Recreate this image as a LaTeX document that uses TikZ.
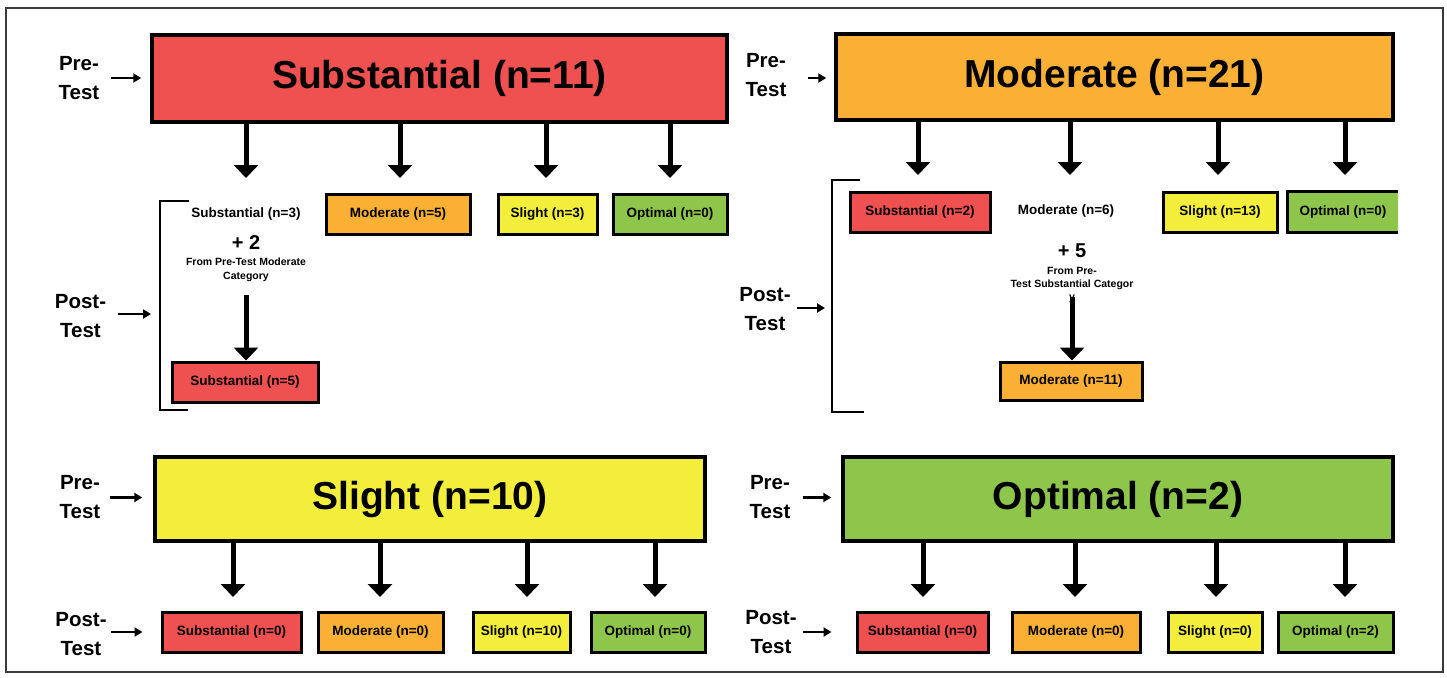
\documentclass[tikz,border=0pt]{standalone}
\usepackage{fontspec}
\setmainfont{Liberation Sans}
\usetikzlibrary{arrows.meta}
\definecolor{cred}{HTML}{EF5050}
\definecolor{corange}{HTML}{FAB034}
\definecolor{cyellow}{HTML}{F3EE3C}
\definecolor{cgreen}{HTML}{8DC64A}
\definecolor{cframe}{HTML}{3A3A3A}
\begin{document}
\begin{tikzpicture}[x=1pt,y=-1pt,
 box/.style={draw=black, line width=3pt, inner sep=0pt, minimum height=40pt, font=\bfseries\fontsize{13.5}{15}\selectfont},
 big/.style={draw=black, line width=3.5pt, inner sep=0pt, font=\bfseries\fontsize{39}{42}\selectfont},
 plain/.style={inner sep=0pt, font=\bfseries\fontsize{13.5}{15}\selectfont},
 lab/.style={inner sep=0pt, align=center, font=\bfseries\fontsize{20.5}{29}\selectfont},
 note/.style={inner sep=0pt, align=center, font=\bfseries\fontsize{10.5}{14}\selectfont},
 plus/.style={inner sep=0pt, font=\bfseries\fontsize{20}{22}\selectfont},
 darr/.style={line width=5pt, -{Triangle[width=24pt,length=13pt]}},
 sarr/.style={line width=2.2pt, -{Triangle[width=9pt,length=8pt]}},
 brk/.style={line width=2pt},
]
\useasboundingbox (0,0) rectangle (1447,677);
\fill[white] (0,0) rectangle (1447,677);
\draw[cframe, line width=2pt] (6,8) rectangle (1443,672);

% ===== Section A: Substantial =====
\node[big, fill=cred, minimum width=575pt, minimum height=87pt] (A) at (439.5,78.5) {Substantial (n=11)};
\node[lab] (preA) at (79,78) {Pre-\\Test};
\draw[sarr] ([xshift=11pt]preA.east) -- ([xshift=-9pt]preA.east -| A.west);
\coordinate (a1) at (246,178);
\coordinate (a2) at (400,178);
\coordinate (a3) at (546,178);
\coordinate (a4) at (670,178);
\foreach \c in {a1,a2,a3,a4} \draw[darr] (A.south -| \c) -- (\c);
\node[plain] (A1) at (246,214) {Substantial (n=3)};
\node[box, fill=corange, minimum width=144pt] (A2) at (398,214) {Moderate (n=5)};
\node[box, fill=cyellow, minimum width=99pt] (A3) at (547.5,214) {Slight (n=3)};
\node[box, fill=cgreen, minimum width=114pt] (A4) at (670,214) {Optimal (n=0)};
\node[plus] (Aplus) at (246,243) {+ 2};
\node[note] (Anote) at (246,269.5) {From Pre-Test Moderate\\Category};
\node[box, fill=cred, minimum width=146pt] (A5) at (245,382) {Substantial (n=5)};
\coordinate (a5) at (246,295);
\draw[darr] (a5) -- (A5.north -| a5);
\draw[brk] (189,201) -- (160,201) -- (160,410) -- (188,410);
\coordinate (bA) at (160,314);
\node[lab] (postA) at (80.5,316) {Post-\\Test};
\draw[sarr] ([xshift=12pt]postA.east |- bA) -- ([xshift=-9pt]bA);

% ===== Section B: Moderate =====
\node[big, fill=corange, minimum width=557pt, minimum height=86pt] (B) at (1114.5,77) {Moderate (n=21)};
\node[lab] (preB) at (766,75) {Pre-\\Test};
\coordinate (pB) at (766,78);
\draw[sarr] ([xshift=42pt]pB) -- ([xshift=-8pt]pB -| B.west);
\coordinate (b1) at (918,175);
\coordinate (b2) at (1070,175);
\coordinate (b3) at (1218,175);
\coordinate (b4) at (1345,175);
\foreach \c in {b1,b2,b3,b4} \draw[darr] (B.south -| \c) -- (\c);
\node[box, fill=cred, minimum width=140pt] (B1) at (920,212) {Substantial (n=2)};
\node[plain] (B2) at (1066,211) {Moderate (n=6)};
\node[box, fill=cyellow, minimum width=114pt] (B3) at (1220,212) {Slight (n=13)};
\node[plain, fill=cgreen, minimum width=110pt, minimum height=40pt] (B4) at (1343,212) {Optimal (n=0)};
\draw[line width=3pt] (B4.north east) -- (B4.north west) -- (B4.south west) -- (B4.south east);
\node[plus] (Bplus) at (1072,251) {+ 5};
\node[note, font=\bfseries\fontsize{10.5}{13}\selectfont] (Bnote) at (1072,285) {From Pre-\\Test Substantial Categor\\y};
\node[box, fill=corange, minimum width=142pt, minimum height=38pt] (B5) at (1071,381) {Moderate (n=11)};
\coordinate (b5) at (1072,297);
\draw[darr] (b5) -- (B5.north -| b5);
\draw[brk] (860,180) -- (832,180) -- (832,412) -- (864,412);
\coordinate (bB) at (832,308);
\node[lab] (postB) at (765,309) {Post-\\Test};
\draw[sarr] ([xshift=32pt]postB.center |- bB) -- ([xshift=-7pt]bB);

% ===== Section C: Slight =====
\node[big, fill=cyellow, minimum width=550pt, minimum height=84pt] (C) at (430,499) {Slight (n=10)};
\node[lab] (preC) at (80,497.5) {Pre-\\Test};
\draw[sarr] ([xshift=9pt]preC.east) -- ([xshift=-11pt]preC.east -| C.west);
\coordinate (c1) at (233,597);
\coordinate (c2) at (380,597);
\coordinate (c3) at (527,597);
\coordinate (c4) at (655,597);
\foreach \c in {c1,c2,c3,c4} \draw[darr] (C.south -| \c) -- (\c);
\node[box, fill=cred, minimum width=139pt] (C1) at (231.5,632) {Substantial (n=0)};
\node[box, fill=corange, minimum width=125pt] (C2) at (380.5,632) {Moderate (n=0)};
\node[box, fill=cyellow, minimum width=97pt] (C3) at (521.5,632) {Slight (n=10)};
\node[box, fill=cgreen, minimum width=114pt] (C4) at (648,632) {Optimal (n=0)};
\node[lab] (postC) at (81,634) {Post-\\Test};
\draw[sarr] ([xshift=4pt]postC.east |- C1.west) -- ([xshift=-18pt]C1.west);

% ===== Section D: Optimal =====
\node[big, fill=cgreen, minimum width=550pt, minimum height=84pt] (D) at (1118,499) {Optimal (n=2)};
\node[lab] (preD) at (770,497.5) {Pre-\\Test};
\draw[sarr] ([xshift=12pt]preD.east) -- ([xshift=-10pt]preD.east -| D.west);
\coordinate (d1) at (923,597);
\coordinate (d2) at (1075,597);
\coordinate (d3) at (1216,597);
\coordinate (d4) at (1345,597);
\foreach \c in {d1,d2,d3,d4} \draw[darr] (D.south -| \c) -- (\c);
\node[box, fill=cred, minimum width=131pt] (D1) at (922.5,632) {Substantial (n=0)};
\node[box, fill=corange, minimum width=128pt] (D2) at (1076,632) {Moderate (n=0)};
\node[box, fill=cyellow, minimum width=94pt] (D3) at (1215,632) {Slight (n=0)};
\node[box, fill=cgreen, minimum width=115pt] (D4) at (1335.5,632) {Optimal (n=2)};
\node[lab] (postD) at (771,632) {Post-\\Test};
\draw[sarr] ([xshift=6pt]postD.east |- D1.west) -- ([xshift=-24pt]D1.west);
\end{tikzpicture}
\end{document}
